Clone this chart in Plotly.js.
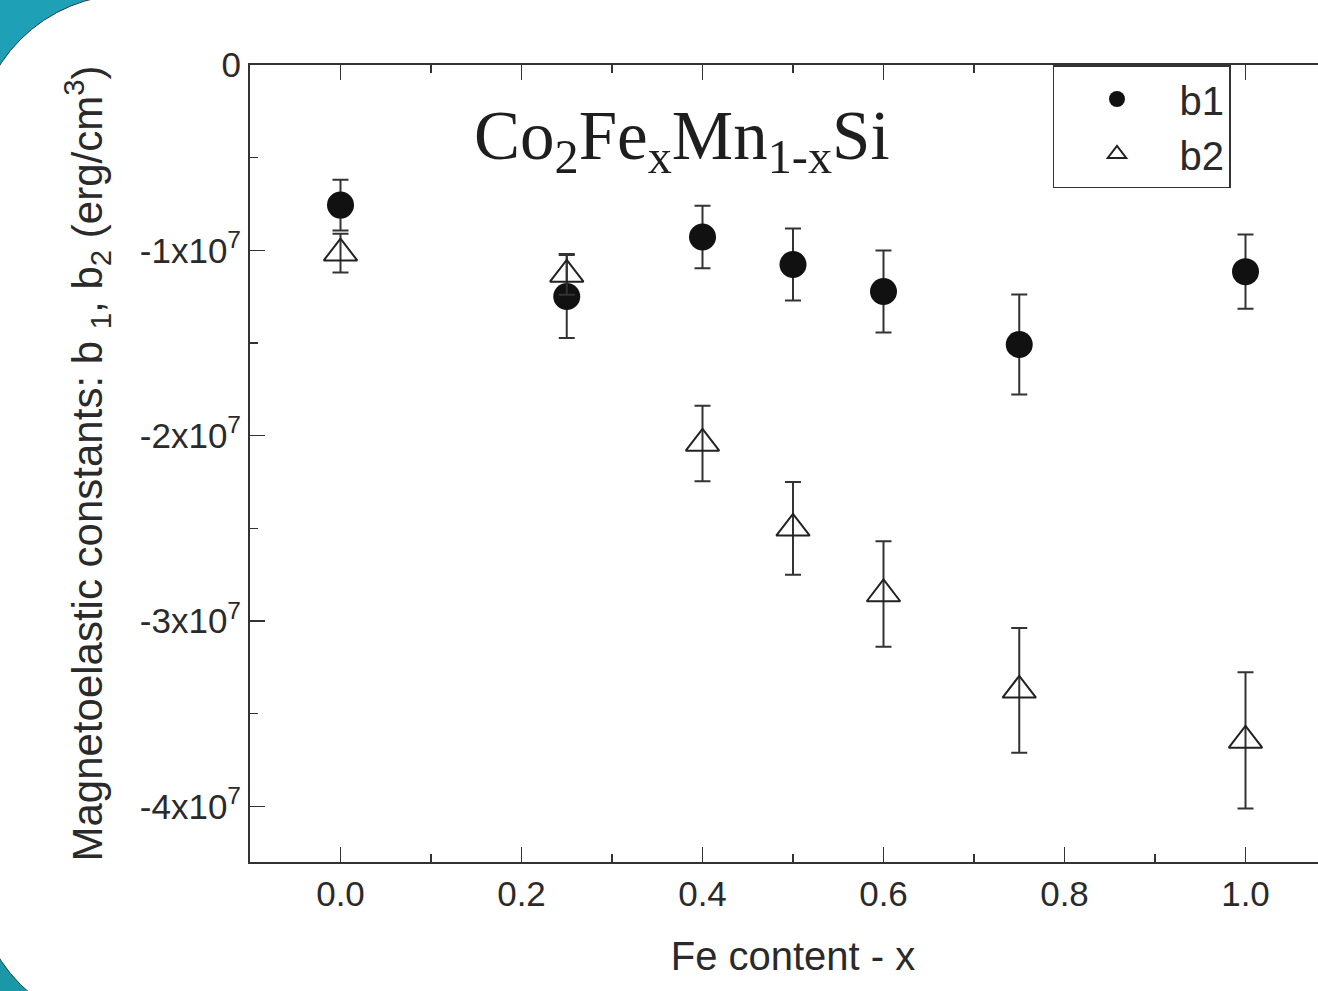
<!DOCTYPE html>
<html>
<head>
<meta charset="utf-8">
<script src="https://cdn.plot.ly/plotly-3.0.1.min.js"></script>
<style>
  html, body { margin: 0; padding: 0; overflow: hidden; width: 1318px; height: 991px; }
  body { background: linear-gradient(180deg, #1ea1b6 0%, #1a98a8 100%); position: relative; }
  #sheet { position: absolute; left: -25px; top: -6px; width: 1600px; height: 1036px;
           border-radius: 154px; background: #ffffff; border: 1.5px solid #2f3b3d; box-sizing: border-box; }
  #chart { position: absolute; left: 0; top: 0; }
</style>
</head>
<body>
<div id="sheet"></div>
<div id="chart"></div>
<script>
// Data
const feContent = [0.0, 0.25, 0.4, 0.5, 0.6, 0.75, 1.0];
const b1 = [-0.756e7, -1.249e7, -0.928e7, -1.076e7, -1.222e7, -1.508e7, -1.115e7];
const b1Err = [0.137e7, 0.224e7, 0.168e7, 0.194e7, 0.221e7, 0.27e7, 0.2e7];
const b2 = [-1.015e7, -1.13e7, -2.042e7, -2.50e7, -2.854e7, -3.374e7, -3.644e7];
const b2Err = [0.105e7, 0.11e7, 0.204e7, 0.25e7, 0.285e7, 0.337e7, 0.368e7];

const xTickVals = [0.0, 0.2, 0.4, 0.6, 0.8, 1.0];
const xTickText = ["0.0", "0.2", "0.4", "0.6", "0.8", "1.0"];
const xMinorVals = [-0.1, 0.1, 0.3, 0.5, 0.7, 0.9, 1.1];
const yTickVals = [0, -1e7, -2e7, -3e7, -4e7];
const yTickText = ["0", "-1x10<sup>7</sup>", "-2x10<sup>7</sup>", "-3x10<sup>7</sup>", "-4x10<sup>7</sup>"];
const yMinorVals = [-0.5e7, -1.5e7, -2.5e7, -3.5e7];

const ink = '#2a2a2a';
const sans = 'Liberation Sans, Arial, sans-serif';

const traces = [
  {
    x: feContent, y: b1, name: 'b1', type: 'scatter', mode: 'markers',
    marker: { symbol: 'circle', size: 27, color: '#111111' },
    error_y: { type: 'data', array: b1Err, visible: true, color: '#333333', thickness: 2, width: 8 }
  },
  {
    x: feContent, y: b2, name: 'b2', type: 'scatter', mode: 'markers',
    marker: { symbol: 'triangle-up-open', size: 29, color: '#222222', line: { width: 2, color: '#222222' } },
    error_y: { type: 'data', array: b2Err, visible: true, color: '#333333', thickness: 2, width: 8 }
  }
];

const axisCommon = {
  showline: true, linecolor: '#333333', linewidth: 2, mirror: 'ticks',
  ticks: 'inside', ticklen: 15, tickwidth: 1.5, tickcolor: '#333333',
  showgrid: false, zeroline: false,
  tickfont: { family: sans, size: 35, color: ink }
};

const layout = {
  width: 1336, height: 991,
  margin: { l: 250, r: 0, t: 65, b: 129, pad: 0 },
  paper_bgcolor: 'rgba(0,0,0,0)', plot_bgcolor: 'rgba(0,0,0,0)',
  showlegend: true,
  xaxis: Object.assign({}, axisCommon, {
    range: [-0.1, 1.1], tickmode: 'array', tickvals: xTickVals, ticktext: xTickText,
    minor: { tickmode: 'array', tickvals: xMinorVals, ticks: 'inside', ticklen: 8, tickwidth: 1.5, tickcolor: '#333333' },
    title: { text: 'Fe content - x', font: { family: sans, size: 40, color: ink }, standoff: 30 }
  }),
  yaxis: Object.assign({}, axisCommon, {
    range: [-4.3e7, 0], tickmode: 'array', tickvals: yTickVals, ticktext: yTickText,
    minor: { tickmode: 'array', tickvals: yMinorVals, ticks: 'inside', ticklen: 8, tickwidth: 1.5, tickcolor: '#333333' },
    title: { text: 'Magnetoelastic constants: b <sub>1</sub>, b<sub>2</sub> (erg/cm<sup>3</sup>)', font: { family: sans, size: 42, color: ink }, standoff: 24 }
  }),
  legend: {
    x: 0.7394, y: 1, xanchor: 'left', yanchor: 'top',
    bgcolor: '#ffffff', bordercolor: '#333333', borderwidth: 1.5,
    font: { family: sans, size: 40, color: ink },
    itemwidth: 115, tracegroupgap: 0
  },
  annotations: [{
    text: 'Co<sub>2</sub>Fe<sub>x</sub>Mn<sub>1-x</sub>Si',
    xref: 'paper', yref: 'paper', x: 0.398, y: 0.905, xanchor: 'center', yanchor: 'middle',
    showarrow: false, font: { family: 'Liberation Serif, Times New Roman, serif', size: 69, color: '#1e1e1e' }
  }]
};

Plotly.newPlot('chart', traces, layout, { displayModeBar: false, staticPlot: true });
</script>
</body>
</html>
